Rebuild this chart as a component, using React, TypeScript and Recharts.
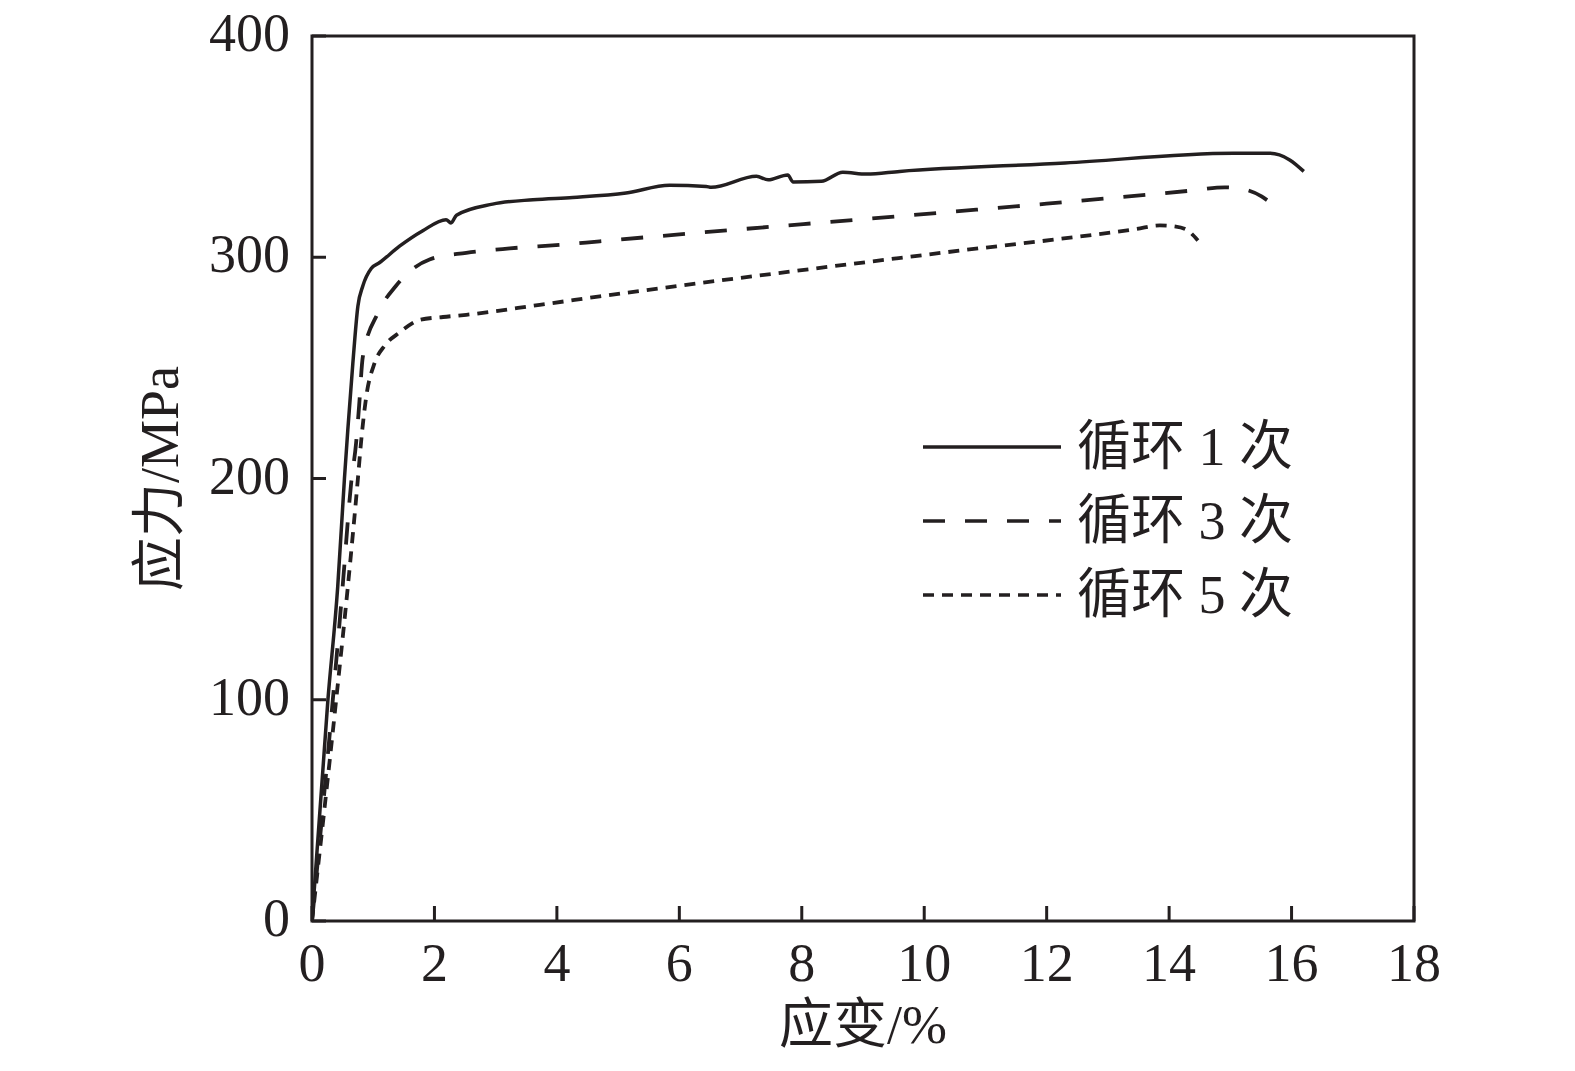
import React from 'react';
import { LineChart, Line, XAxis, YAxis, ReferenceArea, Legend } from 'recharts';

// strain (%) and stress (MPa) for each cycle count
const strain1 = [0, 0.26, 0.42, 0.53, 0.585, 0.667, 0.75, 0.83, 0.97, 1.1, 1.43, 1.81, 2.19, 2.27, 2.36, 2.95, 3.61, 4.26, 5.13, 5.84, 6.44, 6.52, 7.26, 7.45, 7.77, 7.86, 8.32, 8.67, 9.06, 9.6, 12.3, 15.05, 15.65, 15.97, 16.2];
const stress1 = [0, 100, 151, 200, 222, 252, 278, 287, 295, 297.5, 305, 312, 317, 315.5, 319, 324, 326, 327, 329, 332.5, 332, 331.6, 336.6, 335, 337.2, 334, 334.3, 338.4, 337.6, 338.8, 342.6, 347, 347, 344, 338.8];

const strain3 = [0, 0.34, 0.5, 0.64, 0.72, 0.77, 0.83, 1.08, 1.37, 1.92, 2.52, 3.23, 4.1, 4.7, 9.6, 10.85, 12, 14.39, 14.91, 15.24, 15.51, 15.6];
const stress3 = [0, 100, 151, 198, 216, 233, 255, 275, 287, 299, 302, 304, 305.7, 307.2, 318.6, 321.5, 324.2, 330.2, 331.6, 330.6, 327.5, 325.8];

const strain5 = [0, 0.395, 0.585, 0.75, 0.8, 0.886, 1.02, 1.186, 1.43, 1.76, 2.14, 2.52, 3.72, 4.7, 9.55, 10.58, 12.22, 13.47, 13.85, 14.07, 14.28, 14.47];
const stress5 = [0, 100, 151, 200, 216, 237, 252, 260, 266, 271.7, 273, 274, 278.5, 282.3, 299.5, 303, 308.3, 312.8, 314.4, 314, 312.5, 307.6];

const xTicks = [0, 2, 4, 6, 8, 10, 12, 14, 16, 18];
const yTicks = [0, 100, 200, 300, 400];
const seriesNames = ['循环 1 次', '循环 3 次', '循环 5 次'];

const toRows = (xs: number[], ys: number[]) => xs.map((x, i) => ({ x, y: ys[i] }));
const data1 = toRows(strain1, stress1);
const data3 = toRows(strain3, stress3);
const data5 = toRows(strain5, stress5);

const INK = '#231f20';
const NUM_FONT = '"Liberation Serif", "Noto Sans CJK SC", serif';
const dashes = ['', '22 20', '11 8'];

const XTick = (props: any) => {
  const { x, y, payload } = props;
  return (
    <g>
      <line x1={x} y1={y} x2={x} y2={y - 15} stroke={INK} strokeWidth={3} />
      <text x={x} y={y + 60} textAnchor="middle" fontSize={54} fontFamily={NUM_FONT} fill={INK}>
        {payload.value}
      </text>
    </g>
  );
};

const YTick = (props: any) => {
  const { x, y, payload } = props;
  return (
    <g>
      <line x1={x} y1={y} x2={x + 14} y2={y} stroke={INK} strokeWidth={3} />
      <text x={x - 22} y={y + 15} textAnchor="end" fontSize={54} fontFamily={NUM_FONT} fill={INK}>
        {payload.value}
      </text>
    </g>
  );
};

const XTitle = (props: any) => {
  const vb = props.viewBox || {};
  const cx = vb.x + vb.width / 2;
  return (
    <text x={cx} y={vb.y + 122} textAnchor="middle" fontSize={54} fontFamily={NUM_FONT} fill={INK}>
      应变/%
    </text>
  );
};

const YTitle = (props: any) => {
  const vb = props.viewBox || {};
  const cx = vb.x - 52;
  const cy = vb.y + vb.height / 2;
  return (
    <text
      x={cx}
      y={cy}
      transform={`rotate(-90 ${cx} ${cy})`}
      textAnchor="middle"
      dominantBaseline="central"
      fontSize={54}
      fontFamily={NUM_FONT}
      fill={INK}
    >
      应力/MPa
    </text>
  );
};

const renderLegend = () => (
  <div style={{ fontFamily: NUM_FONT, fontSize: 54, color: INK, lineHeight: 1 }}>
    {seriesNames.map((name, i) => (
      <div key={name} style={{ display: 'flex', alignItems: 'center', height: 74 }}>
        <svg width={138} height={8} style={{ display: 'block' }}>
          <line x1={0} y1={4} x2={138} y2={4} stroke={INK} strokeWidth={3.5} strokeDasharray={dashes[i] || undefined} />
        </svg>
        <span style={{ marginLeft: 16, whiteSpace: 'pre' }}>{name}</span>
      </div>
    ))}
  </div>
);

export default function App() {
  return (
    <div style={{ position: 'absolute', left: 0, top: 0, width: 1575, height: 1071, background: '#fff' }}>
      <LineChart width={1575} height={1071} margin={{ top: 36, right: 161, bottom: 50, left: 212 }}>
        <XAxis
          dataKey="x"
          type="number"
          domain={[0, 18]}
          ticks={xTicks}
          height={100}
          axisLine={false}
          tickLine={false}
          tickSize={0}
          tickMargin={0}
          tick={<XTick />}
          interval={0}
          allowDataOverflow
          label={<XTitle />}
        />
        <YAxis
          type="number"
          domain={[0, 400]}
          ticks={yTicks}
          width={100}
          axisLine={false}
          tickLine={false}
          tickSize={0}
          tickMargin={0}
          tick={<YTick />}
          interval={0}
          allowDataOverflow
          label={<YTitle />}
        />
        <ReferenceArea x1={0} x2={18} y1={0} y2={400} fill="none" stroke={INK} strokeWidth={3} ifOverflow="visible" />
        <Legend
          layout="vertical"
          align="center"
          verticalAlign="middle"
          content={renderLegend}
          wrapperStyle={{ left: 923, top: 410, width: 420 }}
        />
        <Line data={data1} dataKey="y" name={seriesNames[0]} type="monotoneX" stroke={INK} strokeWidth={3.5} dot={false} isAnimationActive={false} />
        <Line data={data3} dataKey="y" name={seriesNames[1]} type="monotoneX" stroke={INK} strokeWidth={3.8} strokeDasharray={dashes[1]} dot={false} isAnimationActive={false} />
        <Line data={data5} dataKey="y" name={seriesNames[2]} type="monotoneX" stroke={INK} strokeWidth={3.8} strokeDasharray={dashes[2]} dot={false} isAnimationActive={false} />
      </LineChart>
    </div>
  );
}
